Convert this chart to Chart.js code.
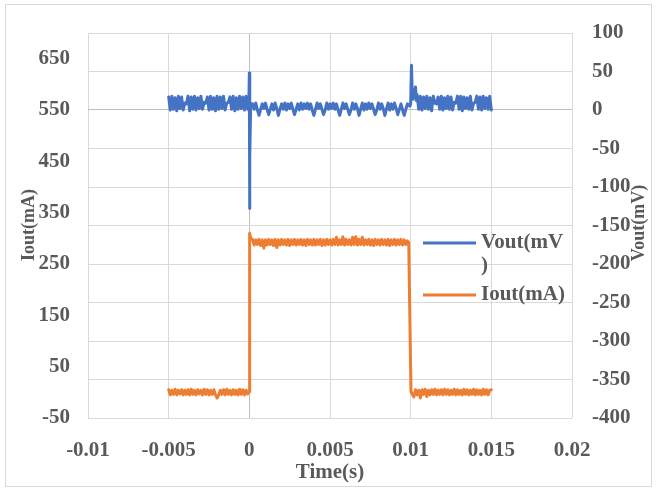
<!DOCTYPE html>
<html>
<head>
<meta charset="utf-8">
<script src="https://cdn.jsdelivr.net/npm/chart.js@4/dist/chart.umd.min.js"></script>
<style>
  html, body { margin: 0; padding: 0; background: #fff; }
  canvas { display: block; }
</style>
</head>
<body>
<canvas id="scopeChart" width="656" height="489"></canvas>
<script>
// axis ticks
var timeTicks = [-0.01, -0.005, 0, 0.005, 0.01, 0.015, 0.02];
var iTicks = [-50, 50, 150, 250, 350, 450, 550, 650];
var vTicks = [-400, -350, -300, -250, -200, -150, -100, -50, 0, 50, 100];

// Vout (mV) capture
var vTime = [
  -0.0050, -0.0049, -0.0048, -0.0047, -0.0046, -0.0045, -0.0044, -0.0043, -0.0042, -0.0041,
  -0.0040, -0.0039, -0.0038, -0.0037, -0.0036, -0.0035, -0.0034, -0.0033, -0.0032, -0.0031,
  -0.0030, -0.0029, -0.0028, -0.0027, -0.0026, -0.0025, -0.0024, -0.0023, -0.0022, -0.0021,
  -0.0020, -0.0019, -0.0018, -0.0017, -0.0016, -0.0015, -0.0014, -0.0013, -0.0012, -0.0011,
  -0.0010, -0.0009, -0.0008, -0.0007, -0.0006, -0.0005, -0.0004, -0.0003, -0.0002, -0.0001,
  -0.00003, 0, 0.00001, 0.00004, 0.00008, 0.00012,
  0.0002, 0.0003, 0.0004, 0.0005, 0.0006, 0.0007, 0.0008, 0.0009, 0.0010, 0.0011,
  0.0012, 0.0013, 0.0014, 0.0015, 0.0016, 0.0017, 0.0018, 0.0019,
  0.0020, 0.0021, 0.0022, 0.0023, 0.0024, 0.0025, 0.0026, 0.0027, 0.0028, 0.0029,
  0.0030, 0.0031, 0.0032, 0.0033, 0.0034, 0.0035, 0.0036, 0.0037, 0.0038, 0.0039,
  0.0040, 0.0041, 0.0042, 0.0043, 0.0044, 0.0045, 0.0046, 0.0047, 0.0048, 0.0049,
  0.0050, 0.0051, 0.0052, 0.0053, 0.0054, 0.0055, 0.0056, 0.0057, 0.0058, 0.0059,
  0.0060, 0.0061, 0.0062, 0.0063, 0.0064, 0.0065, 0.0066, 0.0067, 0.0068, 0.0069,
  0.0070, 0.0071, 0.0072, 0.0073, 0.0074, 0.0075, 0.0076, 0.0077, 0.0078, 0.0079,
  0.0080, 0.0081, 0.0082, 0.0083, 0.0084, 0.0085, 0.0086, 0.0087, 0.0088, 0.0089,
  0.0090, 0.0091, 0.0092, 0.0093, 0.0094, 0.0095, 0.0096, 0.0097, 0.0098,
  0.00995, 0.0100, 0.01005, 0.0101, 0.01015, 0.0103, 0.01035, 0.0104,
  0.0105, 0.0106, 0.0107, 0.0108, 0.0109, 0.0110, 0.0111, 0.0112, 0.0113, 0.0114,
  0.0115, 0.0116, 0.0117, 0.0118, 0.0119, 0.0120, 0.0121, 0.0122, 0.0123, 0.0124,
  0.0125, 0.0126, 0.0127, 0.0128, 0.0129, 0.0130, 0.0131, 0.0132, 0.0133, 0.0134,
  0.0135, 0.0136, 0.0137, 0.0138, 0.0139, 0.0140, 0.0141, 0.0142, 0.0143, 0.0144,
  0.0145, 0.0146, 0.0147, 0.0148, 0.0149, 0.0150
];
var vOut = [
  17, 0, 18, 1, 16, -1, 18, 2, 17, 0,
  9, 8, 18, -1, 17, 1, 18, 0, 16, 2,
  18, 1, 10, 9, 17, 0, 18, 1, 16, -1,
  18, 1, 17, 2, 18, 0, 9, 10, 17, 1,
  18, -1, 16, 1, 18, 2, 17, 0, 18, 1,
  8, 48, -128, -60, 2, 8,
  8, 1, 9, 0, -7, 1, 8, 2, 9, 1,
  -6, 1, 8, 0, 9, 2, -7, 1,
  8, 1, 9, 0, 8, 2, 9, 1, -6, 1,
  8, 0, 9, 1, 8, 2, 9, 1, 8, 0,
  -7, 1, 9, 2, 8, 1, -6, 0, 9, 1,
  8, 2, 9, 1, 8, 0, -7, 1, 9, 2,
  8, 1, -6, 0, 9, 1, 8, 2, -7, 1,
  9, 0, 8, 1, 9, 2, 8, 1, -6, 0,
  9, 1, 8, 2, -7, 1, 9, 0, 8, 1,
  9, 2, -6, 1, 8, 0, -7, 1, 8,
  5, 8, 58, 18, 14, 30, 12, 20,
  1, 18, 0, 17, 2, 18, 1, 16, -1, 18,
  9, 8, 17, 1, 18, 0, 16, 2, 18, 1,
  17, 0, 10, 9, 18, 1, 18, -1, 17, 2,
  16, 1, 18, 0, 9, 10, 18, 1, 17, 0,
  18, 2, 16, 1, 18, 0
];

// Iout (mA) capture
var iTime = [
  -0.0050, -0.0049, -0.0048, -0.0047, -0.0046, -0.0045, -0.0044, -0.0043, -0.0042, -0.0041,
  -0.0040, -0.0039, -0.0038, -0.0037, -0.0036, -0.0035, -0.0034, -0.0033, -0.0032, -0.0031,
  -0.0030, -0.0029, -0.0028, -0.0027, -0.0026, -0.0025, -0.0024, -0.0023, -0.0022, -0.0021,
  -0.0020, -0.0019, -0.0018, -0.0017, -0.0016, -0.0015, -0.0014, -0.0013, -0.0012, -0.0011,
  -0.0010, -0.0009, -0.0008, -0.0007, -0.0006, -0.0005, -0.0004, -0.0003, -0.0002, -0.0001,
  -0.00002, 0.00002, 0.0001,
  0.0002, 0.0003, 0.0004, 0.0005, 0.0006, 0.0007, 0.0008, 0.0009, 0.0010, 0.0011,
  0.0012, 0.0013, 0.0014, 0.0015, 0.0016, 0.0017, 0.0018, 0.0019,
  0.0020, 0.0021, 0.0022, 0.0023, 0.0024, 0.0025, 0.0026, 0.0027, 0.0028, 0.0029,
  0.0030, 0.0031, 0.0032, 0.0033, 0.0034, 0.0035, 0.0036, 0.0037, 0.0038, 0.0039,
  0.0040, 0.0041, 0.0042, 0.0043, 0.0044, 0.0045, 0.0046, 0.0047, 0.0048, 0.0049,
  0.0050, 0.0051, 0.0052, 0.0053, 0.0054, 0.0055, 0.0056, 0.0057, 0.0058, 0.0059,
  0.0060, 0.0061, 0.0062, 0.0063, 0.0064, 0.0065, 0.0066, 0.0067, 0.0068, 0.0069,
  0.0070, 0.0071, 0.0072, 0.0073, 0.0074, 0.0075, 0.0076, 0.0077, 0.0078, 0.0079,
  0.0080, 0.0081, 0.0082, 0.0083, 0.0084, 0.0085, 0.0086, 0.0087, 0.0088, 0.0089,
  0.0090, 0.0091, 0.0092, 0.0093, 0.0094, 0.0095, 0.0096, 0.0097, 0.0098,
  0.00988, 0.01002,
  0.0102, 0.0103, 0.0104, 0.0105, 0.0106, 0.0107, 0.0108, 0.0109, 0.0110, 0.0111,
  0.0112, 0.0113, 0.0114, 0.0115, 0.0116, 0.0117, 0.0118, 0.0119, 0.0120, 0.0121,
  0.0122, 0.0123, 0.0124, 0.0125, 0.0126, 0.0127, 0.0128, 0.0129, 0.0130, 0.0131,
  0.0132, 0.0133, 0.0134, 0.0135, 0.0136, 0.0137, 0.0138, 0.0139, 0.0140, 0.0141,
  0.0142, 0.0143, 0.0144, 0.0145, 0.0146, 0.0147, 0.0148, 0.0149, 0.0150
];
var iOut = [
  5, -5, 4, -4, 6, -5, 4, -3, 5, -5,
  4, -4, 5, -5, 6, -4, 4, -5, 5, -3,
  4, -5, 6, -4, 5, -5, 4, -4, 5, -5,
  -11, -5, 4, -4, 5, -5, 6, -4, 4, -5,
  5, -4, 4, -5, 6, -4, 5, -5, 4, -3,
  1, 310, 298,
  298, 287, 297, 288, 298, 286, 297, 281, 297, 287,
  298, 288, 297, 286, 298, 282, 297, 287,
  298, 288, 297, 287, 298, 286, 297, 288, 298, 287,
  297, 288, 298, 287, 297, 286, 298, 288, 297, 287,
  298, 287, 297, 288, 298, 286, 297, 287, 298, 288,
  297, 287, 298, 288, 302, 287, 297, 288, 303, 287,
  298, 288, 297, 287, 302, 288, 303, 287, 298, 288,
  302, 287, 297, 288, 298, 287, 297, 286, 298, 288,
  297, 287, 298, 288, 297, 287, 298, 286, 297, 288,
  298, 287, 297, 288, 298, 287, 297, 288, 295,
  292, 1,
  -9, 5, -5, 4, -11, 5, -4, 6, -8, 4,
  -5, 5, -4, 6, -5, 4, -4, 5, -5, 6,
  -4, 5, -5, 4, -4, 6, -5, 5, -4, 4,
  -5, 6, -4, 5, -5, 4, -4, 6, -5, 5,
  -4, 4, -5, 6, -4, 5, -5, 4, 5
];

var FONT = "'Liberation Serif', 'Times New Roman', serif";
var TEXT = '#595959';
var GRID = '#d9d9d9';
var AXIS = '#bfbfbf';
var BLUE = '#4472C4';
var ORANGE = '#ED7D31';

function pairs(xs, ys) {
  return xs.map(function (x, i) { return { x: x, y: ys[i] }; });
}

function setTicks(list) {
  return function (scale) {
    scale.ticks = list.map(function (v) { return { value: v }; });
  };
}

// outer frame, axis titles and the in-plot legend
var decorations = {
  id: 'decorations',
  beforeDraw: function (chart) {
    var ctx = chart.ctx;
    ctx.save();
    ctx.fillStyle = '#fff';
    ctx.fillRect(0, 0, chart.width, chart.height);
    ctx.strokeStyle = GRID;
    ctx.lineWidth = 1;
    ctx.strokeRect(5.5, 4.5, chart.width - 10, chart.height - 7);
    ctx.restore();
  },
  afterDraw: function (chart) {
    var ctx = chart.ctx;
    var a = chart.chartArea;
    ctx.save();
    ctx.fillStyle = TEXT;
    ctx.textAlign = 'center';
    ctx.textBaseline = 'middle';

    ctx.font = 'bold 21px ' + FONT;
    ctx.fillText('Time(s)', (a.left + a.right) / 2, a.bottom + 55);

    ctx.font = 'bold 18px ' + FONT;
    ctx.save();
    ctx.translate(29, 225);
    ctx.rotate(-Math.PI / 2);
    ctx.fillText('Iout(mA)', 0, 0);
    ctx.restore();

    ctx.save();
    ctx.translate(639, 223);
    ctx.rotate(-Math.PI / 2);
    ctx.fillText('Vout(mV)', 0, 0);
    ctx.restore();

    // legend
    var lx = a.right - 149;
    var ly = a.top + 210;
    ctx.lineWidth = 3;
    ctx.strokeStyle = BLUE;
    ctx.beginPath();
    ctx.moveTo(lx, ly);
    ctx.lineTo(lx + 53, ly);
    ctx.stroke();
    ctx.strokeStyle = ORANGE;
    ctx.beginPath();
    ctx.moveTo(lx, ly + 52);
    ctx.lineTo(lx + 53, ly + 52);
    ctx.stroke();

    ctx.font = 'bold 21px ' + FONT;
    ctx.textAlign = 'left';
    ctx.fillText('Vout(mV', lx + 58, ly);
    ctx.fillText(')', lx + 58, ly + 23);
    ctx.fillText('Iout(mA)', lx + 58, ly + 52);
    ctx.restore();
  }
};

var tickFont = { family: FONT, size: 21, weight: 'bold' };

new Chart(document.getElementById('scopeChart'), {
  type: 'line',
  data: {
    datasets: [{
      label: 'Vout(mV)',
      data: pairs(vTime, vOut),
      yAxisID: 'yV',
      borderColor: BLUE,
      borderWidth: 3,
      borderJoinStyle: 'round',
      borderCapStyle: 'round',
      pointRadius: 0,
      tension: 0
    }, {
      label: 'Iout(mA)',
      data: pairs(iTime, iOut),
      yAxisID: 'yI',
      borderColor: ORANGE,
      borderWidth: 3,
      borderJoinStyle: 'round',
      borderCapStyle: 'round',
      pointRadius: 0,
      tension: 0
    }]
  },
  options: {
    responsive: false,
    animation: false,
    devicePixelRatio: 1,
    layout: { padding: { top: 33, left: 0, right: 0, bottom: 0 } },
    plugins: {
      legend: { display: false },
      title: { display: false },
      tooltip: { enabled: false }
    },
    scales: {
      x: {
        type: 'linear',
        min: -0.01,
        max: 0.02,
        afterBuildTicks: setTicks(timeTicks),
        afterFit: function (s) { s.height = 71; },
        ticks: {
          font: tickFont,
          color: TEXT,
          padding: 20,
          maxRotation: 0,
          autoSkip: false,
          callback: function (v) { return String(v); }
        },
        grid: {
          drawTicks: false,
          lineWidth: 1,
          color: function (c) { return c.tick && c.tick.value === 0 ? AXIS : GRID; }
        },
        border: { display: false }
      },
      yI: {
        type: 'linear',
        position: 'left',
        min: -50,
        max: 700,
        afterBuildTicks: setTicks(iTicks),
        afterFit: function (s) { s.width = 88; },
        ticks: { font: tickFont, color: TEXT, padding: 18, autoSkip: false },
        grid: { display: false, drawTicks: false },
        border: { display: false }
      },
      yV: {
        type: 'linear',
        position: 'right',
        min: -400,
        max: 100,
        afterBuildTicks: setTicks(vTicks),
        afterFit: function (s) { s.width = 84; },
        ticks: { font: tickFont, color: TEXT, padding: 20, autoSkip: false },
        grid: {
          drawTicks: false,
          lineWidth: 1,
          color: function (c) { return c.tick && c.tick.value === 0 ? AXIS : GRID; }
        },
        border: { display: false }
      }
    }
  },
  plugins: [decorations]
});
</script>
</body>
</html>
